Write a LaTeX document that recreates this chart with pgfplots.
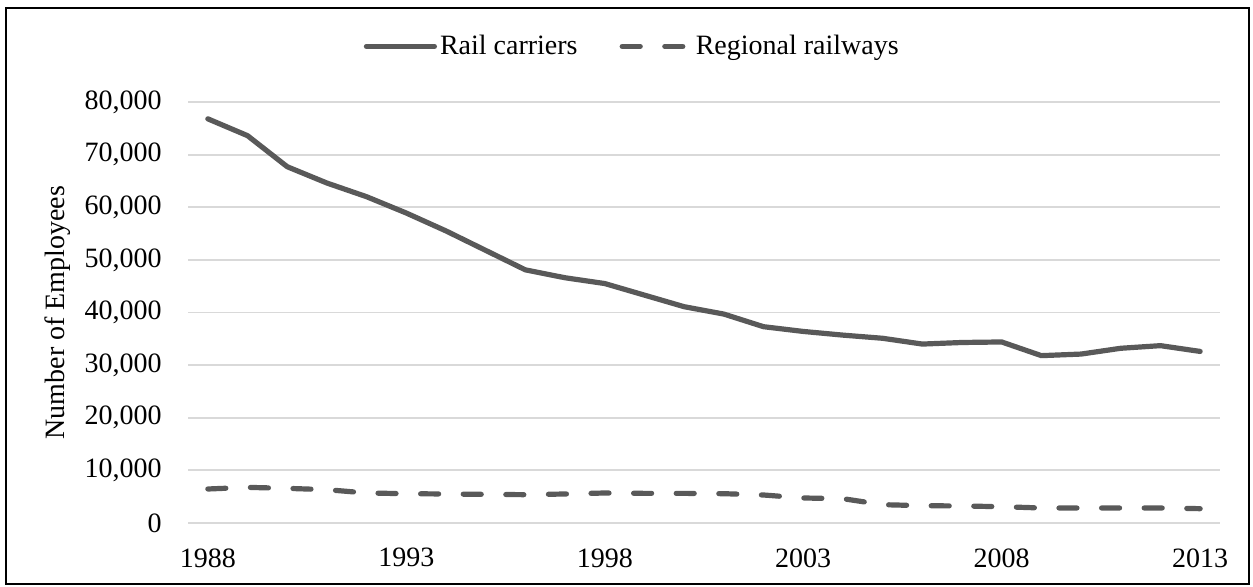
\documentclass[border=0pt]{standalone}
\usepackage{pgfplots}
\pgfplotsset{compat=1.18}
\usepackage{fontspec}
\setmainfont{Liberation Serif}
\definecolor{linegray}{HTML}{595959}
\definecolor{gridgray}{HTML}{D9D9D9}
\begin{document}
\begin{tikzpicture}
\useasboundingbox (0,0) rectangle (626.5pt,293.5pt);
\draw[black, line width=1.2pt] (3pt,1.5pt) rectangle (624.5pt,289.5pt);
\begin{axis}[
  at={(94pt,32pt)}, anchor=south west,
  scale only axis, width=516pt, height=210.5pt,
  xmin=1987.5, xmax=2013.5, ymin=0, ymax=80000,
  xtick={1988,1993,1998,2003,2008,2013},
  ytick={0,10000,20000,30000,40000,50000,60000,70000,80000},
  scaled y ticks=false,
  axis line style={draw=none},
  major tick length=0pt,
  ymajorgrids, grid style={gridgray, line width=0.9pt},
  font=\fontsize{14}{16}\selectfont,
  /pgf/number format/assume math mode=true,
  xticklabel={\pgfmathprintnumber[1000 sep=]{\tick}},
  yticklabel={\pgfmathprintnumber[fixed, precision=0, 1000 sep={,}]{\tick}},
  yticklabel style={anchor=east, inner sep=0pt, xshift=-13pt},
  xticklabel style={anchor=north, inner sep=0pt, yshift=-12.5pt},
  ylabel={Number of Employees},
  every axis y label/.style={at={(axis description cs:-0.126,0.5)}, rotate=90, anchor=center},
  legend columns=2,
  legend style={draw=none, fill=none, at={(axis description cs:0.431,1.132)}, anchor=center,
    font=\fontsize{14}{16}\selectfont,
    /tikz/every odd column/.append style={column sep=0pt},
    /tikz/every even column/.append style={column sep=19.5pt},
    inner sep=0pt,
    nodes={inner xsep=1.5pt}},
  legend cell align=left,
  legend image code/.code={\draw[#1] (0pt,0pt) -- (34pt,0pt);},
]
\addplot[linegray, line width=2.6pt, line join=round, line cap=round] coordinates {
(1988,76800) (1989,73600) (1990,67700) (1991,64600) (1992,62000) (1993,58900)
(1994,55500) (1995,51800) (1996,48100) (1997,46600) (1998,45500) (1999,43300)
(2000,41100) (2001,39700) (2002,37300) (2003,36400) (2004,35700) (2005,35100)
(2006,34000) (2007,34300) (2008,34400) (2009,31800) (2010,32100) (2011,33200)
(2012,33700) (2013,32600)};
\addlegendentry{Rail carriers}
\addplot[linegray, line width=2.6pt, line join=round, line cap=round, dash pattern=on 9pt off 12.3pt] coordinates {
(1988,6460) (1989,6770) (1990,6580) (1991,6330) (1992,5700) (1993,5570)
(1994,5510) (1995,5440) (1996,5380) (1997,5510) (1998,5700) (1999,5630)
(2000,5630) (2001,5570) (2002,5320) (2003,4750) (2004,4620) (2005,3480)
(2006,3290) (2007,3230) (2008,3100) (2009,2850) (2010,2850) (2011,2850)
(2012,2850) (2013,2720)};
\addlegendentry{Regional railways}
\end{axis}
\end{tikzpicture}
\end{document}
